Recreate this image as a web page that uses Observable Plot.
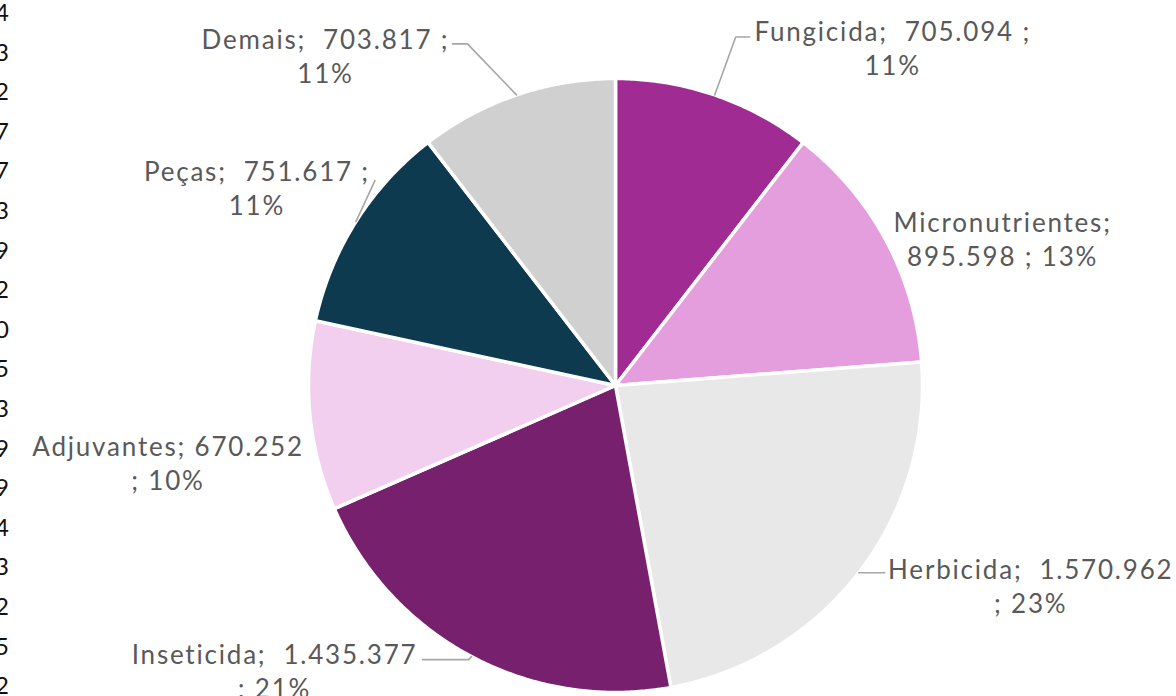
<!DOCTYPE html>
<html>
<head>
<meta charset="utf-8">
<script src="https://cdn.jsdelivr.net/npm/d3@7"></script>
<script src="https://cdn.jsdelivr.net/npm/@observablehq/plot@0.6"></script>
<style>
  html, body { margin: 0; padding: 0; background: #fff; width: 1176px; height: 696px; overflow: hidden; }
  #wrap { position: relative; width: 1176px; height: 696px; }
  #chart { position: absolute; left: 0; top: 0; z-index: 1; }
  #digits { position: absolute; left: 0; top: 0; width: 12px; height: 696px; z-index: 2; overflow: visible; }
  .dg { position: absolute; right: 3px; font-family: Lato, "DejaVu Sans", sans-serif; font-size: 24px; color: #111; line-height: 24px; }
</style>
</head>
<body>
<div id="wrap"><div id="chart"></div><div id="digits"></div></div>
<script>
// ---- data ----
const categories = ["Fungicida", "Micronutrientes", "Herbicida", "Inseticida", "Adjuvantes", "Peças", "Demais"];
const values = [705094, 895598, 1570962, 1435377, 670252, 751617, 703817];
const pctLabels = ["11%", "13%", "23%", "21%", "10%", "11%", "11%"];
const leftDigits = ["4","3","2","7","7","3","9","2","0","5","3","9","9","4","3","2","5","2"];

// ---- styling / layout ----
const colors = ["#A02B93", "#E59EDD", "#E8E8E8", "#77206D", "#F2CEEF", "#0E3A4F", "#D0D0D0"];
const W = 1176, H = 696, CX = 615, CY = 385, R = 307;
const FONT = 26, LINE = 34;
// label offsets (px) relative to the slice's mid-edge point; leader vertices relative too
const labelLayout = [
  {dx: 178, dy: -65, brk: "value",  leader: [[21, -58], [35, -58]]},
  {dx: 117, dy: -19, brk: "name",   leader: null},
  {dx: 172, dy: -5,  brk: "number", leader: [[26, 0]]},
  {dx: -197, dy: -4, brk: "number", leader: [[-3, 3], [-49, 3]]},
  {dx: -142, dy: 29, brk: "number1", leader: null},
  {dx: -99, dy: -51, brk: "value",  leader: [[19, -41]]},
  {dx: -191, dy: -57, brk: "value", leader: [[-49, -51], [-64, -51]]}
];

const fmt = d3.formatLocale({decimal: ",", thousands: ".", grouping: [3], currency: ["", ""]}).format(",d");
const NB = "\u00a0";

const rows = categories.map((c, i) => ({cat: c, value: values[i], pct: pctLabels[i]}));
const arcs = d3.pie().sort(null).value(d => d.value)(rows);

// slice polygons (unit-circle coordinates; y up)
const slicePts = [];
arcs.forEach(a => {
  const n = Math.max(2, Math.ceil((a.endAngle - a.startAngle) / (Math.PI / 360)));
  slicePts.push({cat: a.data.cat, x: 0, y: 0});
  for (let k = 0; k <= n; k++) {
    const t = a.startAngle + (a.endAngle - a.startAngle) * k / n;
    slicePts.push({cat: a.data.cat, x: Math.sin(t), y: Math.cos(t)});
  }
  slicePts.push({cat: a.data.cat, x: 0, y: 0});
});

// labels and leaders
const labels = [];
const leaders = [];
arcs.forEach((a, i) => {
  const m = (a.startAngle + a.endAngle) / 2;
  const ex = Math.sin(m), ey = Math.cos(m);
  const L = labelLayout[i];
  const name = a.data.cat, num = fmt(a.data.value), pct = a.data.pct;
  let text;
  if (L.brk === "value") text = `${name};${NB} ${num}${NB};\n${pct}`;
  else if (L.brk === "name") text = `${name};\n${num}${NB};${NB}${pct}`;
  else if (L.brk === "number1") text = `${name}; ${num}\n;${NB}${pct}`;
  else text = `${name};${NB} ${num}\n;${NB}${pct}`;
  labels.push({text, x: ex + L.dx / R, y: ey - (L.dy + LINE / 2) / R});
  if (L.leader) {
    leaders.push({cat: name, x: ex, y: ey});
    L.leader.forEach(([px, py]) => leaders.push({cat: name, x: ex + px / R, y: ey - py / R}));
  }
});

const chart = Plot.plot({
  width: W,
  height: H,
  margin: 0,
  x: {domain: [-1, 1], range: [CX - R, CX + R], axis: null},
  y: {domain: [-1, 1], range: [CY + R, CY - R], axis: null},
  color: {domain: categories, range: colors},
  style: {background: "white", overflow: "visible", letterSpacing: "1.8px"},
  marks: [
    Plot.line(slicePts, {x: "x", y: "y", z: "cat", fill: "cat", stroke: "white", strokeWidth: 3.5, strokeLinejoin: "round", curve: "linear"}),
    Plot.line(leaders, {x: "x", y: "y", z: "cat", stroke: "#A6A6A6", strokeWidth: 1.6, curve: "linear"}),
    Plot.text(labels, {x: "x", y: "y", text: "text", fill: "#595959", fontSize: FONT, fontFamily: "Lato, 'DejaVu Sans', sans-serif", lineHeight: LINE / FONT, textAnchor: "middle", lineAnchor: "middle"})
  ]
});
document.getElementById("chart").appendChild(chart);

// cropped column of digits at the far left edge
const dg = document.getElementById("digits");
leftDigits.forEach((d, i) => {
  const s = document.createElement("div");
  s.className = "dg";
  s.textContent = d;
  s.style.top = (12 + i * 39.6 - 12) + "px";
  dg.appendChild(s);
});
</script>
</body>
</html>
